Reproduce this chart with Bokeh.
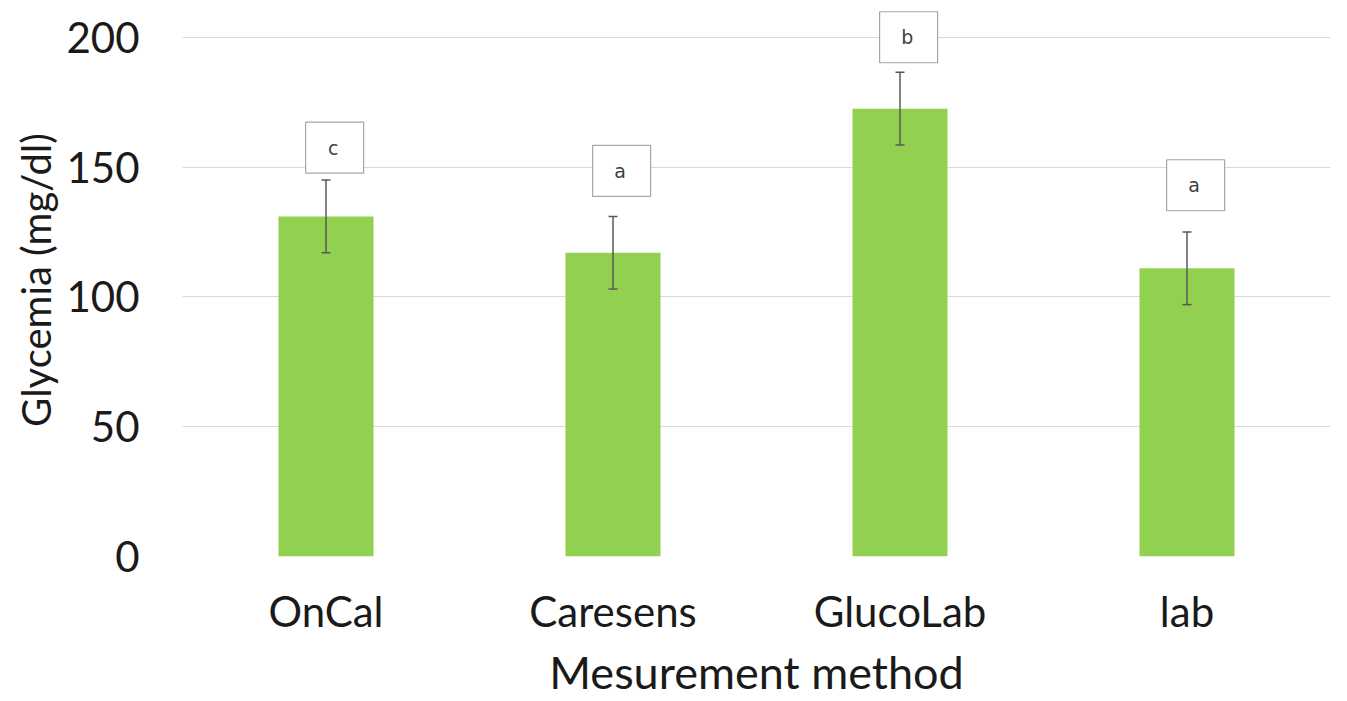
from bokeh.plotting import figure
from bokeh.models import ColumnDataSource, Whisker, FixedTicker, FactorRange, Range1d, TeeHead
from bokeh.transform import dodge
from bokeh.embed import file_html
from bokeh.resources import INLINE

methods = ["OnCal", "Caresens", "GlucoLab", "lab"]
means = [131, 117, 172.5, 111]
errors = [14, 14, 14, 14]
letters = ["c", "a", "b", "a"]
letter_y = [157.5, 148.5, 200, 143]
y_ticks = [0, 50, 100, 150, 200]

FONT = "Lato"

source = ColumnDataSource(dict(
    x=methods,
    top=means,
    upper=[m + e for m, e in zip(means, errors)],
    lower=[m - e for m, e in zip(means, errors)],
    letter=letters,
    ly=letter_y,
))

p = figure(
    x_range=FactorRange(*methods),
    y_range=Range1d(0, 213),
    width=1347, height=701,
    output_backend="svg", toolbar_location=None,
    min_border_left=182, min_border_right=17, min_border_top=3, min_border_bottom=145,
)
p.outline_line_color = None
p.background_fill_color = "white"
p.border_fill_color = "white"

p.vbar(x="x", top="top", width=0.331, source=source, fill_color="#92d050", line_color=None)

w = Whisker(base="x", upper="upper", lower="lower", source=source, level="annotation",
            line_color="#595959", line_width=1.5,
            upper_head=TeeHead(size=9, line_color="#595959", line_width=1.5),
            lower_head=TeeHead(size=9, line_color="#595959", line_width=1.5))
p.add_layout(w)

p.rect(x=dodge("x", 0.03, range=p.x_range), y="ly", width=58, height=51,
       width_units="screen", height_units="screen", source=source,
       fill_color="white", line_color="#a6a6a6", line_width=1.2)
p.text(x=dodge("x", 0.025, range=p.x_range), y="ly", text="letter", source=source,
       text_align="center", text_baseline="middle", text_font_size="19px",
       text_color="#404040", text_font={"value": "DejaVu Sans"})

p.yaxis.ticker = FixedTicker(ticks=y_ticks)
p.ygrid.ticker = FixedTicker(ticks=y_ticks)
p.ygrid.grid_line_color = "#d9d9d9"
p.ygrid.grid_line_width = 1.2
p.xgrid.grid_line_color = None

for ax in (p.xaxis, p.yaxis):
    ax.axis_line_color = None
    ax.major_tick_line_color = None
    ax.minor_tick_line_color = None
    ax.major_label_text_font = FONT
    ax.axis_label_text_font = FONT
    ax.major_label_text_color = "#1a1a1a"
    ax.axis_label_text_color = "#1a1a1a"
    ax.axis_label_text_font_style = "normal"

p.yaxis.major_label_text_font_size = "42px"
p.yaxis.major_label_standoff = 37
p.yaxis.axis_label = "Glycemia (mg/dl)"
p.yaxis.axis_label_text_font_size = "40px"
p.yaxis.axis_label_standoff = 3

p.xaxis.major_label_text_font_size = "42px"
p.xaxis.major_label_standoff = 23
p.xaxis.axis_label = "Mesurement method"
p.xaxis.axis_label_text_font_size = "45px"
p.xaxis.axis_label_standoff = 6

open("out.html", "w").write(file_html(p, INLINE))
